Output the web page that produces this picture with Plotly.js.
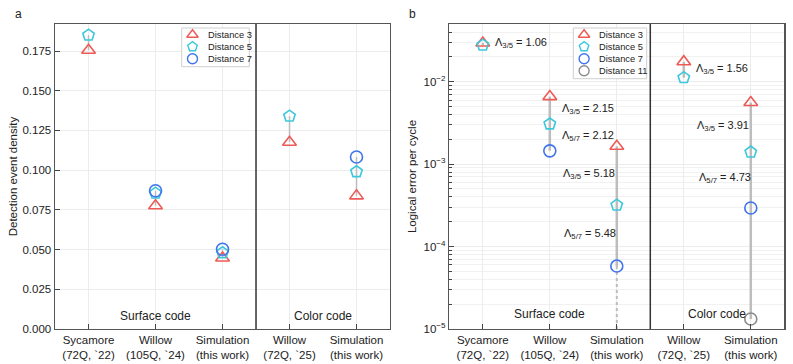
<!DOCTYPE html>
<html>
<head>
<meta charset="utf-8">
<script src="https://cdn.plot.ly/plotly-3.0.1.min.js"></script>
<style>body{margin:0;background:#fff}#chart{width:793px;height:364px}</style>
</head>
<body>
<div id="chart"></div>
<script>
// categories (index = position on x)
var catIdx = [0, 1, 2, 3, 4];
var catLabels = ["Sycamore<br>(72Q, `22)", "Willow<br>(105Q, `24)", "Simulation<br>(this work)", "Willow<br>(72Q, `25)", "Simulation<br>(this work)"];

// panel a: detection event density
var densD3 = [0.1755, 0.0776, 0.0447, 0.1176, 0.0838];
var densD5 = [0.185, 0.0855, 0.048, 0.134, 0.099];
var densD7 = [null, 0.087, 0.0502, null, 0.1083];

// panel b: logical error per cycle
var errD3 = [0.0295, 0.0066, 0.00165, 0.0175, 0.0056];
var errD5 = [0.0278, 0.00307, 0.000318, 0.0112, 0.0014];
var errD7 = [null, 0.00145, 0.000058, null, 0.000294];
var errD11 = [null, null, null, null, 0.0000132];

// lambda labels
var lamText = ["Λ<sub>3/5</sub> = 1.06", "Λ<sub>3/5</sub> = 2.15", "Λ<sub>5/7</sub> = 2.12", "Λ<sub>3/5</sub> = 5.18", "Λ<sub>5/7</sub> = 5.48", "Λ<sub>3/5</sub> = 1.56", "Λ<sub>3/5</sub> = 3.91", "Λ<sub>5/7</sub> = 4.73"];
var lamX = [0.145, 1.15, 1.15, 1.16, 1.18, 3.145, 3.16, 3.2];
var lamY = [-1.53, -2.33, -2.66, -3.12, -3.85, -1.84, -2.54, -3.17];

var legNames = ["Distance 3", "Distance 5", "Distance 7", "Distance 11"];
var legSymbols = ["triangle-up-open", "pentagon-open", "circle-open", "circle-open"];

var red = "#ee5a55", cyan = "#3cc8dc", blue = "#3f74ec", gray = "#8c8c8c";
var legColors = [red, cyan, blue, gray];
var data = [];

function vlines(series, xa, ya, w) {
  catIdx.forEach(function (i) {
    var vals = series.map(function (s) { return s[i]; }).filter(function (v) { return v != null; });
    if (vals.length < 2) return;
    data.push({x: [i, i], y: [Math.min.apply(null, vals), Math.max.apply(null, vals)],
      xaxis: xa, yaxis: ya, mode: "lines", line: {color: "#bdbdbd", width: w},
      showlegend: false, hoverinfo: "skip"});
  });
}
vlines([densD3, densD5, densD7], "x", "y", 1.5);
vlines([errD3, errD5, errD7, errD11], "x2", "y2", 2.5);
// dotted extension below the simulated d=7 point, down to the axis floor
data.push({x: [2, 2], y: [errD7[2], 1e-5], xaxis: "x2", yaxis: "y2", mode: "lines",
  line: {color: "#bdbdbd", width: 2, dash: "dot"}, showlegend: false, hoverinfo: "skip"});

function pts(y, k, xa, ya) {
  data.push({x: catIdx, y: y, name: legNames[k], xaxis: xa, yaxis: ya, mode: "markers", showlegend: false,
    marker: {symbol: legSymbols[k], size: 12, color: legColors[k], line: {color: legColors[k], width: 1.6}}});
}
pts(densD3, 0, "x", "y");
pts(densD5, 1, "x", "y");
pts(densD7, 2, "x", "y");
pts(errD3, 0, "x2", "y2");
pts(errD5, 1, "x2", "y2");
pts(errD7, 2, "x2", "y2");
pts(errD11, 3, "x2", "y2");

var W = 793, H = 364;
var minorVals = [];
for (var e = -5; e < -1; e++) for (var m = 2; m <= 9; m++) minorVals.push(m * Math.pow(10, e));

var xbase = {range: [-0.5, 4.5], tickmode: "array", tickvals: catIdx, ticktext: catLabels,
  ticks: "inside", ticklen: 5, tickcolor: "#444", showline: true, mirror: true, linecolor: "#555",
  linewidth: 1.5, showgrid: true, gridcolor: "#ececec", zeroline: false,
  tickfont: {size: 11.5, color: "#222"}};
var ybase = {ticks: "inside", ticklen: 5, tickcolor: "#444", showline: true, mirror: true,
  linecolor: "#555", linewidth: 1.5, showgrid: true, gridcolor: "#ececec", zeroline: false,
  tickfont: {size: 11.5, color: "#222"}};

var layout = {
  width: W, height: H, margin: {l: 0, r: 0, t: 0, b: 0}, showlegend: false,
  paper_bgcolor: "#fff", plot_bgcolor: "rgba(0,0,0,0)",
  font: {family: "Liberation Sans, Arial, sans-serif", color: "#222"},
  xaxis: Object.assign({}, xbase, {domain: [0.0694, 0.4918], anchor: "y"}),
  yaxis: Object.assign({}, ybase, {range: [0, 0.192], tickvals: [0, 0.025, 0.05, 0.075, 0.1, 0.125, 0.15, 0.175],
    tickformat: ".3f", domain: [0.0962, 0.934], anchor: "x",
    title: {text: "Detection event density", font: {size: 11.5}, standoff: 2}}),
  xaxis2: Object.assign({}, xbase, {domain: [0.5666, 0.989], anchor: "y2"}),
  yaxis2: Object.assign({}, ybase, {type: "log", range: [-5, -1.3], tickmode: "array",
    tickvals: [1e-5, 1e-4, 1e-3, 1e-2], ticktext: ["10<sup>−5</sup>", "10<sup>−4</sup>", "10<sup>−3</sup>", "10<sup>−2</sup>"],
    domain: [0.0962, 0.934], anchor: "x2",
    minor: {tickmode: "array", tickvals: minorVals, ticks: "inside", ticklen: 3, tickcolor: "#444",
      showgrid: true, gridcolor: "#f1f1f1"},
    title: {text: "Logical error per cycle", font: {size: 11.5}, standoff: 4}}),
  // overlay axes in pixel units, used only for the legend glyphs
  xaxis3: {domain: [0, 1], range: [0, W], visible: false, anchor: "y3", fixedrange: true},
  yaxis3: {domain: [0, 1], range: [H, 0], visible: false, anchor: "x3", fixedrange: true},
  shapes: [
    {type: "line", xref: "x", yref: "y domain", x0: 2.5, x1: 2.5, y0: 0, y1: 1, line: {color: "#333", width: 1.5}},
    {type: "line", xref: "x2", yref: "y2 domain", x0: 2.5, x1: 2.5, y0: 0, y1: 1, line: {color: "#333", width: 1.5}}
  ],
  annotations: [
    {text: "a", xref: "paper", yref: "paper", x: 0.016, y: 0.985, showarrow: false, xanchor: "left", yanchor: "top", font: {size: 12}},
    {text: "b", xref: "paper", yref: "paper", x: 0.513, y: 0.985, showarrow: false, xanchor: "left", yanchor: "top", font: {size: 12}},
    {text: "Surface code", xref: "x", yref: "y domain", x: 1, y: 0.043, yanchor: "middle", showarrow: false, font: {size: 12}},
    {text: "Color code", xref: "x", yref: "y domain", x: 3.5, y: 0.043, yanchor: "middle", showarrow: false, font: {size: 12}},
    {text: "Surface code", xref: "x2", yref: "y2 domain", x: 1, y: 0.05, yanchor: "middle", showarrow: false, font: {size: 12}},
    {text: "Color code", xref: "x2", yref: "y2 domain", x: 3.5, y: 0.05, yanchor: "middle", showarrow: false, font: {size: 12}}
  ]
};
lamText.forEach(function (t, i) {
  layout.annotations.push({text: t, xref: "x2", yref: "y2", x: lamX[i], y: lamY[i], showarrow: false,
    xanchor: "left", yanchor: "middle", font: {size: 11}});
});

// legend boxes: [left, top, right, entry count]
[[181.7, 28, 249.3, 3], [573.3, 28, 646.7, 4]].forEach(function (b) {
  var n = b[3], rowH = 12, bottom = b[1] + 2.7 + n * rowH;
  layout.shapes.push({type: "rect", xref: "x3", yref: "y3", x0: b[0], x1: b[2], y0: b[1], y1: bottom,
    fillcolor: "#fff", line: {color: "#cfcfcf", width: 1}, layer: "below"});
  for (var k = 0; k < n; k++) {
    var ry = b[1] + 6.7 + k * rowH;
    data.push({x: [b[0] + 10.8], y: [ry], xaxis: "x3", yaxis: "y3", mode: "markers", showlegend: false,
      hoverinfo: "skip", marker: {symbol: legSymbols[k], size: 10, color: legColors[k], line: {color: legColors[k], width: 1.4}}});
    layout.annotations.push({text: legNames[k], xref: "x3", yref: "y3", x: b[0] + 24, y: ry,
      xanchor: "left", yanchor: "middle", showarrow: false, font: {size: 9.3}});
  }
});

Plotly.newPlot("chart", data, layout, {displayModeBar: false, staticPlot: true});
</script>
</body>
</html>
